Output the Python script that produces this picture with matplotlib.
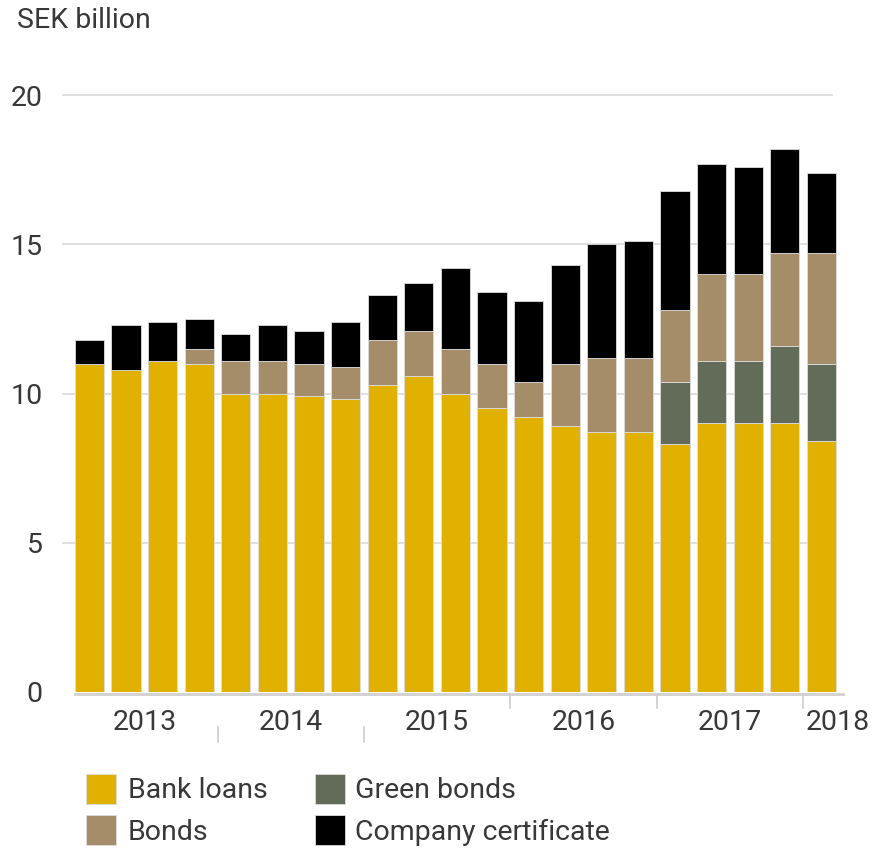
import matplotlib
matplotlib.use("Agg")
import matplotlib.pyplot as plt
from matplotlib.patches import Rectangle
import numpy as np

plt.rcParams['font.family'] = ['Roboto', 'DejaVu Sans']

# SEK billion, quarterly 2013 Q1 .. 2018 Q1
bank_loans = [11.0, 10.8, 11.1, 11.0, 10.0, 10.0, 9.9, 9.8, 10.3, 10.6, 10.0,
              9.5, 9.2, 8.9, 8.7, 8.7, 8.3, 9.0, 9.0, 9.0, 8.4]
green_bonds = [0, 0, 0, 0, 0, 0, 0, 0, 0, 0, 0,
               0, 0, 0, 0, 0, 2.1, 2.1, 2.1, 2.6, 2.6]
bonds = [0, 0, 0, 0.5, 1.1, 1.1, 1.1, 1.1, 1.5, 1.5, 1.5,
         1.5, 1.2, 2.1, 2.5, 2.5, 2.4, 2.9, 2.9, 3.1, 3.7]
company_cert = [0.8, 1.5, 1.3, 1.0, 0.9, 1.2, 1.1, 1.5, 1.5, 1.6, 2.7,
                2.4, 2.7, 3.3, 3.8, 3.9, 4.0, 3.7, 3.6, 3.5, 2.7]
years = ["2013", "2014", "2015", "2016", "2017", "2018"]
year_centers = [1.5, 5.5, 9.5, 13.5, 17.5, 20.45]
year_bounds = [3.5, 7.5, 11.5, 15.5, 19.5]

series = [("Bank loans", bank_loans, "#e0b100"),
          ("Green bonds", green_bonds, "#636b59"),
          ("Bonds", bonds, "#a48d68"),
          ("Company certificate", company_cert, "#000000")]

txt = "#383838"
fs = 20.5
W, H = 874, 851
fig = plt.figure(figsize=(W / 100, H / 100), dpi=100)
ax = fig.add_axes([62 / W, 1 - 692 / H, (843 - 62) / W, 21 * 29.85 / H])

x = np.arange(len(bank_loans))
ax.set_xlim(-0.75, 20.59)
ax.set_ylim(0, 21)

for yv in [5, 10, 15, 20]:
    ax.plot([-0.75, 20.28], [yv, yv], color="#d9d9d9", lw=1.2, zorder=0)

bottom = np.zeros(len(x))
for name, vals, col in series:
    vals = np.array(vals, dtype=float)
    ax.bar(x, vals, 0.8, bottom=bottom, color=col, edgecolor="#dddddd",
           linewidth=0.6, zorder=2)
    bottom += vals

for s in ax.spines.values():
    s.set_visible(False)
ax.plot([-0.4, 20.59], [-0.07, -0.07], color="#d0d0d0", lw=2, clip_on=False)

ax.set_xticks([])
ax.set_yticks([0, 5, 10, 15, 20])
ax.tick_params(axis='y', length=0, pad=14, labelsize=fs, labelcolor=txt)

for i, b in enumerate(year_bounds):
    if i < 2:
        ax.plot([b, b], [-1.17, -1.68], color="#cccccc", lw=1.2, clip_on=False)
    else:
        ax.plot([b, b], [-0.07, -0.55], color="#cccccc", lw=1.2, clip_on=False)
for yr, c in zip(years, year_centers):
    ax.text(c, -1.02, yr, ha="center", va="center", fontsize=fs, color=txt)

fig.text(17 / W, 1 - 21 / H, "SEK billion", ha="left", va="center",
         fontsize=fs, color=txt)

# legend
leg = [("Bank loans", "#e0b100", 86, 789, 42),
       ("Bonds", "#a48d68", 86, 830, 42),
       ("Green bonds", "#636b59", 315, 789, 40),
       ("Company certificate", "#000000", 315, 830, 40)]
for name, col, lx, ly, off in leg:
    fig.add_artist(Rectangle((lx / W, 1 - (ly + 15) / H), 30 / W, 30 / H,
                             transform=fig.transFigure, facecolor=col,
                             edgecolor="#dddddd", linewidth=0.6))
    fig.text((lx + off) / W, 1 - (ly + 2) / H, name, ha="left", va="center",
             fontsize=fs, color=txt)

fig.savefig("out.png", dpi=100)
